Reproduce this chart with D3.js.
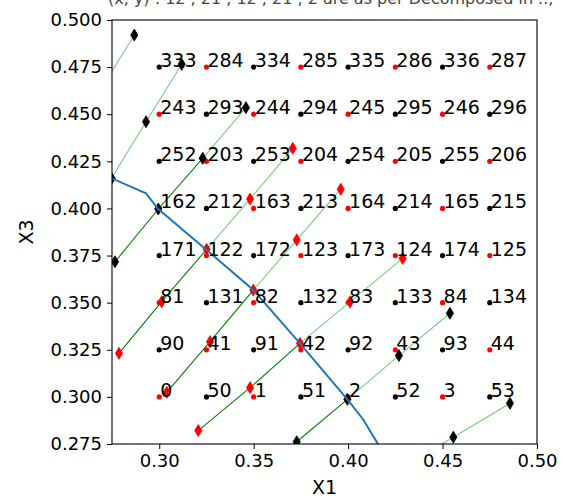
<!DOCTYPE html>
<html>
<head>
<meta charset="utf-8">
<script src="https://cdn.jsdelivr.net/npm/d3@7"></script>
<style>
  html, body { margin: 0; padding: 0; background: #fff; }
  svg { display: block; font-family: "DejaVu Sans", sans-serif; }
</style>
</head>
<body>
<svg id="chart" width="569" height="500"></svg>
<script>
// Grid of labelled states (X1 along x, X3 along y)
const xGrid = [0.300, 0.325, 0.350, 0.375, 0.400, 0.425, 0.450, 0.475];
const yGrid = [0.300, 0.325, 0.350, 0.375, 0.400, 0.425, 0.450, 0.475];

// Label of each grid point, one row per X3 value (bottom to top)
const gridLabels = [
  [0, 50, 1, 51, 2, 52, 3, 53],
  [90, 41, 91, 42, 92, 43, 93, 44],
  [81, 131, 82, 132, 83, 133, 84, 134],
  [171, 122, 172, 123, 173, 124, 174, 125],
  [162, 212, 163, 213, 164, 214, 165, 215],
  [252, 203, 253, 204, 254, 205, 255, 206],
  [243, 293, 244, 294, 245, 295, 246, 296],
  [333, 284, 334, 285, 335, 286, 336, 287]
];

// Dot class of each grid point: "r" = red, "k" = black (bottom to top)
const gridClass = [
  "rkrkrkrk",
  "krkrkrkr",
  "rkrkrkrk",
  "krkrkrkr",
  "rkrkrkrk",
  "krkrkrkr",
  "rkrkrkrk",
  "krkrkrkr"
];

// Trajectories: successive (X1, X3) states, marker colour, and the index
// of the first segment drawn in the lighter shade
const trajectories = [
  { marker: "black", light: 0, pts: [[0.2680, 0.4615], [0.2868, 0.4920]] },
  { marker: "black", light: 0, pts: [[0.2748, 0.4160], [0.2930, 0.4460], [0.3119, 0.4765]] },
  { marker: "black", light: 2, pts: [[0.2766, 0.3717], [0.2995, 0.3997], [0.3230, 0.4266], [0.3459, 0.4535]] },
  { marker: "red",   light: 2, pts: [[0.2787, 0.3231], [0.3013, 0.3505], [0.3251, 0.3783], [0.3481, 0.4050], [0.3707, 0.4319]] },
  { marker: "red",   light: 2, pts: [[0.3040, 0.3024], [0.3269, 0.3293], [0.3498, 0.3567], [0.3728, 0.3833], [0.3961, 0.4102]] },
  { marker: "red",   light: 2, pts: [[0.3207, 0.2821], [0.3481, 0.3049], [0.3745, 0.3284], [0.4010, 0.3504], [0.4289, 0.3735]] },
  { marker: "black", light: 1, pts: [[0.3728, 0.2762], [0.3996, 0.2987], [0.4269, 0.3219], [0.4539, 0.3444]] },
  { marker: "black", light: 0, pts: [[0.4257, 0.2606], [0.4557, 0.2786], [0.4857, 0.2966]] }
];

// Boundary curve through the crossing states
const boundaryX = [0.2600, 0.2748, 0.2930, 0.2995, 0.3251, 0.3498, 0.3745, 0.3996, 0.4080, 0.4200];
const boundaryY = [0.4250, 0.4160, 0.4080, 0.3997, 0.3780, 0.3567, 0.3284, 0.2987, 0.2880, 0.2680];

const xTicks = [0.30, 0.35, 0.40, 0.45, 0.50];
const yTicks = [0.275, 0.300, 0.325, 0.350, 0.375, 0.400, 0.425, 0.450, 0.475, 0.500];

const titleText = "(x, y) : 12 , 21 , 12 , 21 , 2 are as per Decomposed in ..,";

const svg = d3.select("#chart");
const pLeft = 112, pRight = 537, pTop = 20, pBottom = 444;

const x = d3.scaleLinear().domain([0.275, 0.50]).range([pLeft, pRight]);
const y = d3.scaleLinear().domain([0.275, 0.50]).range([pBottom, pTop]);

const defs = svg.append("defs");
defs.append("clipPath").attr("id", "plotClip")
  .append("rect").attr("x", pLeft).attr("y", pTop)
  .attr("width", pRight - pLeft).attr("height", pBottom - pTop);

// Title, running off the top of the figure
svg.append("text")
  .attr("x", 108).attr("y", 4)
  .attr("font-size", 16).attr("fill", "#444")
  .text(titleText);

const plot = svg.append("g").attr("clip-path", "url(#plotClip)");

// Grid dots and labels
const cells = [];
gridLabels.forEach((row, i) => row.forEach((lab, j) => {
  cells.push({ x: xGrid[j], y: yGrid[i], label: lab, cls: gridClass[i][j] });
}));

plot.selectAll("circle.dot").data(cells).join("circle")
  .attr("class", "dot")
  .attr("cx", d => x(d.x)).attr("cy", d => y(d.y)).attr("r", 2.6)
  .attr("fill", d => d.cls === "r" ? "#ff0000" : "#000");

svg.append("g").selectAll("text.lab").data(cells).join("text")
  .attr("class", "lab")
  .attr("x", d => x(d.x) + 1).attr("y", d => y(d.y))
  .attr("font-size", 19).attr("fill", "#000")
  .text(d => d.label);

// Trajectory segments
const segs = [];
trajectories.forEach(t => {
  for (let k = 0; k < t.pts.length - 1; k++) {
    segs.push({ a: t.pts[k], b: t.pts[k + 1], light: k >= t.light });
  }
});
plot.selectAll("line.seg").data(segs).join("line")
  .attr("class", "seg")
  .attr("x1", d => x(d.a[0])).attr("y1", d => y(d.a[1]))
  .attr("x2", d => x(d.b[0])).attr("y2", d => y(d.b[1]))
  .attr("stroke", d => d.light ? "#7fc97f" : "#008000")
  .attr("stroke-width", 1.1);

// Thin diamond markers
const markers = [];
trajectories.forEach(t => t.pts.forEach(p => markers.push({ p, c: t.marker })));
const diamond = "M0,-6 L3.6,0 L0,6 L-3.6,0 Z";
plot.selectAll("path.mk").data(markers).join("path")
  .attr("class", "mk")
  .attr("transform", d => `translate(${x(d.p[0])},${y(d.p[1])})`)
  .attr("d", diamond)
  .attr("fill", d => d.c === "red" ? "#ff0000" : "#000")
  .attr("stroke", d => d.c === "red" ? "#ff0000" : "#000")
  .attr("stroke-width", 0.8);

// Boundary curve
const boundary = boundaryX.map((v, i) => [v, boundaryY[i]]);
plot.append("path")
  .attr("d", d3.line().x(d => x(d[0])).y(d => y(d[1]))(boundary))
  .attr("fill", "none").attr("stroke", "#1f77b4").attr("stroke-width", 2);

// Axes
const gx = svg.append("g").attr("transform", `translate(0,${pBottom})`)
  .call(d3.axisBottom(x).tickValues(xTicks).tickFormat(d3.format(".2f")).tickSizeOuter(0).tickSize(5).tickPadding(5));
const gy = svg.append("g").attr("transform", `translate(${pLeft},0)`)
  .call(d3.axisLeft(y).tickValues(yTicks).tickFormat(d3.format(".3f")).tickSizeOuter(0).tickSize(5).tickPadding(5));
[gx, gy].forEach(g => {
  g.select(".domain").remove();
  g.selectAll(".tick line").attr("stroke", "#000").attr("stroke-width", 1);
  g.selectAll(".tick text").attr("font-size", 18).attr("fill", "#000")
    .attr("font-family", "DejaVu Sans, sans-serif");
});

// Frame
svg.append("rect")
  .attr("x", pLeft).attr("y", pTop).attr("width", pRight - pLeft).attr("height", pBottom - pTop)
  .attr("fill", "none").attr("stroke", "#000").attr("stroke-width", 1.1);

// Axis titles
svg.append("text").attr("x", (pLeft + pRight) / 2).attr("y", 494)
  .attr("text-anchor", "middle").attr("font-size", 19).text("X1");
svg.append("text")
  .attr("transform", `translate(33,${(pTop + pBottom) / 2}) rotate(-90)`)
  .attr("text-anchor", "middle").attr("font-size", 19).text("X3");
</script>
</body>
</html>
